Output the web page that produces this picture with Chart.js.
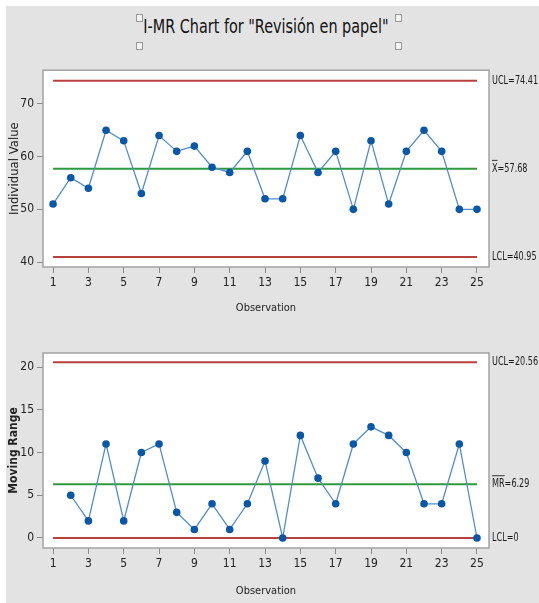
<!DOCTYPE html>
<html><head><meta charset="utf-8">
<script src="https://cdn.jsdelivr.net/npm/chart.js@4.4.1/dist/chart.umd.min.js"></script>
<style>
html,body{margin:0;padding:0;background:#fff;width:539px;height:603px;overflow:hidden;}
#bg{position:absolute;left:6px;top:6px;width:533px;height:597px;background:#e3e3e3;}
#title{position:absolute;left:0;top:13px;width:532px;text-align:center;font-family:'DejaVu Sans Condensed','DejaVu Sans',sans-serif;font-size:20px;color:#111;line-height:26px;transform:scaleX(0.8);transform-origin:266px 0;}
.box{position:absolute;width:5px;height:6px;border:1px solid #9a9a9a;background:#f4f4f4;}
.cv{position:absolute;left:0;width:539px;}
</style></head>
<body>
<div id="bg"></div>
<div id="title">I-MR Chart for "Revisión en papel"</div>
<div class="box" style="left:136px;top:14px"></div>
<div class="box" style="left:136px;top:42px"></div>
<div class="box" style="left:395px;top:14px"></div>
<div class="box" style="left:395px;top:42px"></div>
<div class="cv" style="top:60px;height:260px"><canvas id="c1"></canvas></div>
<div class="cv" style="top:330px;height:273px"><canvas id="c2"></canvas></div>
<script>
const observations = [1,2,3,4,5,6,7,8,9,10,11,12,13,14,15,16,17,18,19,20,21,22,23,24,25];
const individualValues = [51,56,54,65,63,53,64,61,62,58,57,61,52,52,64,57,61,50,63,51,61,65,61,50,50];
const movingRanges = [null,5,2,11,2,10,11,3,1,4,1,4,9,0,12,7,4,11,13,12,10,4,4,11,0];
const xTicks = [1,3,5,7,9,11,13,15,17,19,21,23,25];
const iTicks = [40,50,60,70];
const mrTicks = [0,5,10,15,20];
const iLimits = [74.41, 57.68, 40.95];
const mrLimits = [20.56, 6.29, 0];
const iLimitNames = ['UCL=', 'X', 'LCL='];
const mrLimitNames = ['UCL=', 'MR', 'LCL='];
const iLimitText = ['74.41', '=57.68', '40.95'];
const mrLimitText = ['20.56', '=6.29', '0'];

const FONT = "'DejaVu Sans Condensed','DejaVu Sans',sans-serif";
const RED = '#b8413f', GREEN = '#2f9a3c', LINE = '#4f8ed0', PT = '#0a57a8';
const SQUASH = 0.72;

function limitPlugin(values, names, texts) {
  return {
    id: 'lim',
    beforeDatasetsDraw(chart) {
      const a = chart.chartArea, ctx = chart.ctx;
      ctx.save();
      ctx.fillStyle = '#ffffff';
      ctx.fillRect(a.left, a.top, a.right - a.left, a.bottom - a.top);
      ctx.restore();
    },
    afterDraw(chart) {
      const a = chart.chartArea, ctx = chart.ctx, y = chart.scales.y;
      ctx.save();
      ctx.strokeStyle = '#a3a3a3';
      ctx.lineWidth = 1.5;
      ctx.strokeRect(a.left, a.top, a.right - a.left, a.bottom - a.top);
      ctx.font = '12.5px ' + FONT;
      ctx.fillStyle = '#1a1a1a';
      ctx.textBaseline = 'middle';
      ctx.textAlign = 'left';
      const x0 = a.right + 3;
      values.forEach((v, i) => {
        const py = y.getPixelForValue(v);
        ctx.save();
        ctx.translate(x0, py);
        ctx.scale(SQUASH, 1);
        ctx.fillText(names[i] + texts[i], 0, 0);
        if (i === 1) {
          const w = ctx.measureText(names[i]).width;
          ctx.strokeStyle = '#1a1a1a';
          ctx.lineWidth = 1;
          ctx.beginPath();
          ctx.moveTo(0, -8.5);
          ctx.lineTo(w, -8.5);
          ctx.stroke();
        }
        ctx.restore();
      });
      ctx.restore();
    }
  };
}

function makeChart(id, values, limits, names, texts, yTicks, yMin, yMax, yTitle, yBold, padTop, xHeight) {
  const series = observations.map((o, i) => ({x: o, y: values[i]}));
  const limitSets = limits.map((v, i) => ({
    data: [{x: observations[0], y: v}, {x: observations[observations.length - 1], y: v}],
    borderColor: i === 1 ? GREEN : RED,
    borderWidth: 2,
    pointRadius: 0,
    order: 2
  }));
  return new Chart(document.getElementById(id), {
    type: 'line',
    data: {
      datasets: [{
        data: series,
        borderColor: LINE,
        borderWidth: 1.3,
        pointRadius: 3.8,
        pointBackgroundColor: PT,
        pointBorderColor: PT,
        pointBorderWidth: 0,
        spanGaps: false,
        order: 0
      }].concat(limitSets)
    },
    options: {
      responsive: true,
      maintainAspectRatio: false,
      animation: false,
      events: [],
      layout: {padding: {top: padTop, right: 50, left: 0, bottom: 0}},
      plugins: {legend: {display: false}, tooltip: {enabled: false}},
      scales: {
        x: {
          type: 'linear', min: 0.43, max: 25.68,
          afterBuildTicks: s => { s.ticks = xTicks.map(v => ({value: v})); },
          afterFit: s => { s.height = xHeight; },
          grid: {drawOnChartArea: false, drawTicks: true, tickLength: 6, color: '#8a8a8a'},
          border: {display: false},
          ticks: {font: {family: FONT, size: 12}, color: '#222', padding: 3, maxRotation: 0, autoSkip: false},
          title: {display: true, text: 'Observation', font: {family: FONT, size: 11}, color: '#222', padding: {top: 0, bottom: 5}}
        },
        y: {
          min: yMin, max: yMax,
          afterBuildTicks: s => { s.ticks = yTicks.map(v => ({value: v})); },
          afterFit: s => { s.width = 43; },
          grid: {drawOnChartArea: false, drawTicks: true, tickLength: 6, color: '#8a8a8a'},
          border: {display: false},
          ticks: {font: {family: FONT, size: 12}, color: '#222', padding: 3},
          title: {display: true, text: yTitle, font: {family: FONT, size: yBold ? 12 : 13, weight: yBold ? 'bold' : 'normal'}, color: '#222', padding: {top: 7, bottom: 0}}
        }
      }
    },
    plugins: [limitPlugin(limits, names, texts)]
  });
}

makeChart('c1', individualValues, iLimits, iLimitNames, iLimitText, iTicks, 39.06, 76.4, 'Individual Value', false, 9, 53);
makeChart('c2', movingRanges, mrLimits, mrLimitNames, mrLimitText, mrTicks, -1.17, 21.64, 'Moving Range', true, 23, 55);
</script>
</body></html>
